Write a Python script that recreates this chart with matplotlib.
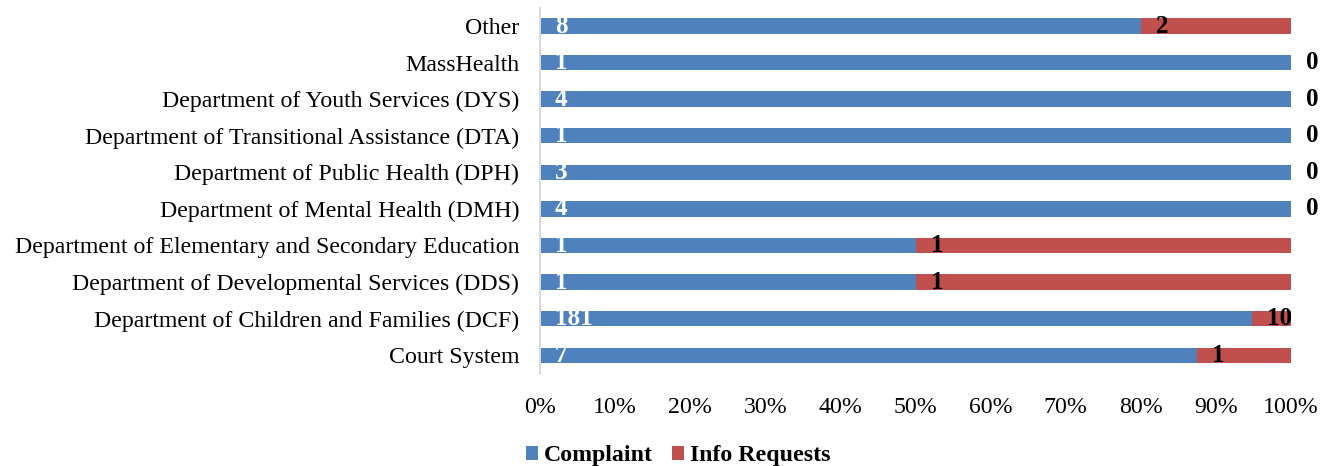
import matplotlib
matplotlib.use("Agg")
import matplotlib.pyplot as plt
import numpy as np
from matplotlib.transforms import offset_copy

categories = ["Court System",
              "Department of Children and Families (DCF)",
              "Department of Developmental Services (DDS)",
              "Department of Elementary and Secondary Education",
              "Department of Mental Health (DMH)",
              "Department of Public Health (DPH)",
              "Department of Transitional Assistance (DTA)",
              "Department of Youth Services (DYS)",
              "MassHealth",
              "Other"]
complaints = [7, 181, 1, 1, 4, 3, 1, 4, 1, 8]
info_requests = [1, 10, 1, 1, 0, 0, 0, 0, 0, 2]
series_names = ["Complaint", "Info Requests"]
xtick_labels = ["0%", "10%", "20%", "30%", "40%", "50%", "60%", "70%", "80%", "90%", "100%"]

plt.rcParams['font.family'] = ['Liberation Serif', 'DejaVu Serif']

c = np.array(complaints, dtype=float)
r = np.array(info_requests, dtype=float)
tot = c + r
cp = c / tot
rp = r / tot

fig = plt.figure(figsize=(13.37, 4.66), dpi=100)
ax = fig.add_axes([0.4039, 0.1985, 0.5617, 0.7849])
y = np.arange(len(categories))
blue = "#4F81BD"
red = "#C0504D"
ax.barh(y, cp, height=0.42, color=blue, label=series_names[0])
ax.barh(y, rp, left=cp, height=0.42, color=red, label=series_names[1])

fs = 17.2
ax.set_xlim(0, 1)
ax.set_ylim(-0.5, len(categories) - 0.5)
ax.set_yticks(y)
ax.set_yticklabels(categories, fontsize=fs)
ax.set_xticks(np.linspace(0, 1, 11))
ax.set_xticklabels(xtick_labels, fontsize=fs)
ax.tick_params(axis='y', length=0, pad=15)
ax.tick_params(axis='x', length=0, pad=17)
for s in ["top", "right", "bottom"]:
    ax.spines[s].set_visible(False)
ax.spines["left"].set_color("#D9D9D9")
ax.spines["left"].set_linewidth(1.5)

tr = offset_copy(ax.transData, fig=fig, x=15, y=0, units='dots')
for yi, cv, rv, cpos in zip(y, complaints, info_requests, cp):
    ax.text(0, yi, str(cv), transform=tr, ha='left', va='center',
            color='white', fontsize=18, fontweight='bold')
    ax.text(cpos, yi, str(rv), transform=tr, ha='left', va='center',
            color='black', fontsize=18, fontweight='bold')

handles, labels = ax.get_legend_handles_labels()
leg = fig.legend(handles, labels, loc='center', bbox_to_anchor=(0.507, 0.022),
                 ncol=2, frameon=False, prop={'size': fs, 'weight': 'bold'},
                 handlelength=0.5, handleheight=0.5, handletextpad=0.25,
                 columnspacing=0.8)

fig.savefig("out.png", dpi=100)
